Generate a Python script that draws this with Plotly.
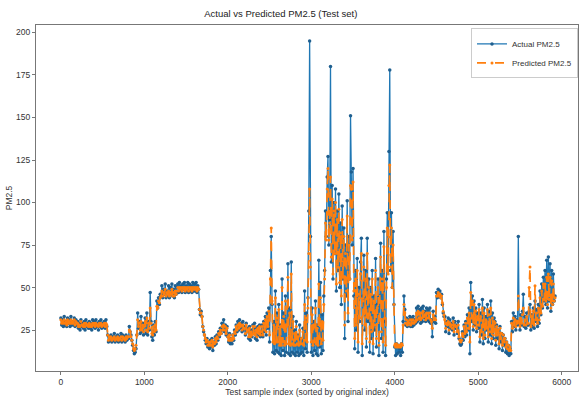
import plotly.graph_objects as go

# Test sample index (every 10th sample)
sample_index = list(range(0, 5921, 10))

actual_pm25 = [
    32, 28, 31, 27, 33, 28, 30, 27, 32, 29, 31, 27, 33, 28, 30, 28, 32, 27, 31, 28,
    30, 26, 29, 25, 31, 27, 29, 26, 30, 25, 31, 27, 29, 26, 30, 26, 29, 25, 31, 27,
    30, 26, 31, 27, 29, 25, 30, 27, 31, 26, 29, 27, 30, 26, 31, 27, 22, 18, 21, 19,
    22, 18, 21, 19, 23, 18, 21, 19, 22, 18, 21, 19, 23, 18, 22, 19, 21, 18, 22, 19,
    21, 20, 27, 24, 22, 19, 16, 13, 11, 12, 14, 22, 35, 26, 30, 23, 33, 24, 29, 22,
    27, 32, 23, 35, 22, 30, 25, 47, 30, 21, 19, 28, 22, 30, 24, 42, 38, 44, 40, 46,
    45, 51, 44, 49, 46, 52, 44, 48, 45, 51, 44, 50, 46, 52, 45, 49, 44, 51, 46, 50,
    52, 47, 53, 48, 51, 47, 52, 49, 53, 47, 51, 48, 53, 47, 52, 48, 51, 47, 53, 48,
    52, 48, 53, 47, 51, 49, 37, 34, 36, 33, 27, 24, 22, 19, 17, 20, 15, 18, 14, 19,
    15, 20, 13, 18, 16, 21, 17, 22, 19, 24, 21, 26, 23, 29, 25, 31, 24, 28, 22, 27,
    21, 18, 23, 17, 20, 17, 22, 19, 25, 22, 28, 24, 30, 25, 31, 26, 29, 24, 30, 25,
    27, 22, 29, 24, 26, 20, 27, 19, 25, 21, 28, 23, 29, 20, 26, 19, 27, 22, 28, 21,
    23, 28, 21, 30, 24, 33, 22, 35, 26, 38, 18, 60, 80, 40, 12, 30, 11, 48, 13, 35,
    12, 40, 11, 28, 10, 55, 13, 35, 10, 45, 12, 30, 64, 11, 38, 10, 65, 12, 33, 11,
    25, 10, 30, 12, 22, 10, 28, 11, 20, 12, 26, 10, 48, 14, 35, 12, 44, 95, 195, 80,
    12, 38, 10, 30, 13, 42, 11, 28, 10, 66, 15, 53, 11, 34, 13, 45, 60, 95, 80, 115,
    127, 75, 90, 180, 65, 110, 55, 100, 70, 108, 48, 95, 60, 105, 50, 88, 40, 98, 55, 85,
    20, 75, 45, 101, 30, 80, 55, 151, 118, 75, 120, 45, 14, 60, 25, 67, 12, 50, 30, 65,
    79, 10, 45, 69, 25, 60, 15, 79, 30, 55, 12, 50, 20, 60, 11, 45, 25, 67, 15, 40,
    55, 10, 45, 76, 20, 60, 12, 83, 30, 10, 55, 94, 60, 130, 178, 60, 94, 50, 83, 40,
    15, 10, 17, 11, 16, 12, 14, 10, 17, 12, 30, 45, 37, 28, 32, 27, 31, 29, 33, 27,
    32, 27, 33, 28, 31, 29, 38, 30, 39, 31, 37, 29, 38, 30, 39, 32, 36, 30, 38, 31,
    37, 30, 38, 29, 31, 21, 36, 30, 33, 29, 47, 44, 49, 45, 48, 44, 46, 40, 35, 33,
    33, 24, 30, 27, 32, 23, 31, 26, 29, 25, 32, 22, 30, 26, 28, 23, 30, 20, 17, 16,
    17, 24, 19, 28, 21, 30, 22, 34, 25, 38, 11, 53, 30, 45, 25, 42, 28, 38, 24, 35,
    26, 40, 18, 35, 22, 43, 17, 38, 20, 33, 25, 40, 18, 36, 22, 42, 17, 35, 20, 32,
    30, 16, 28, 20, 25, 14, 27, 18, 23, 13, 22, 16, 20, 12, 18, 11, 16, 10, 14, 11,
    30, 24, 35, 27, 33, 25, 31, 28, 80, 29, 25, 34, 28, 36, 46, 27, 33, 26, 35, 28,
    28, 36, 40, 25, 34, 27, 38, 26, 42, 30, 37, 27, 40, 29, 48, 34, 52, 38, 56, 42,
    60, 40, 66, 38, 68, 42, 64, 36, 60, 40, 58, 42, 45,
]

predicted_pm25 = [
    31, 29, 30, 29, 31, 29, 30, 28, 31, 29, 30, 29, 31, 29, 30, 29, 31, 28, 30, 29,
    29, 27, 28, 27, 30, 28, 28, 27, 29, 27, 29, 28, 28, 27, 29, 27, 28, 27, 29, 28,
    29, 27, 29, 28, 28, 27, 29, 28, 29, 27, 28, 28, 29, 27, 29, 28, 22, 19, 21, 20,
    21, 19, 20, 20, 21, 19, 20, 20, 21, 19, 20, 20, 21, 19, 21, 20, 20, 19, 21, 20,
    21, 21, 25, 24, 21, 19, 17, 14, 13, 14, 16, 22, 31, 27, 29, 25, 30, 25, 28, 24,
    27, 30, 25, 32, 24, 29, 26, 38, 29, 23, 22, 27, 24, 28, 25, 39, 38, 42, 41, 44,
    45, 48, 45, 47, 46, 49, 45, 47, 46, 48, 45, 47, 46, 49, 45, 47, 45, 48, 46, 48,
    50, 48, 50, 49, 50, 48, 50, 49, 50, 48, 50, 49, 50, 48, 50, 49, 50, 48, 50, 49,
    50, 49, 50, 48, 50, 49, 37, 35, 35, 33, 27, 25, 22, 20, 18, 19, 16, 18, 16, 18,
    16, 19, 15, 18, 17, 20, 18, 21, 20, 23, 22, 25, 23, 27, 25, 28, 25, 27, 23, 26,
    21, 19, 22, 19, 20, 19, 22, 20, 24, 23, 27, 25, 28, 26, 29, 27, 28, 25, 28, 26,
    26, 23, 28, 24, 25, 21, 26, 21, 24, 22, 27, 23, 27, 22, 25, 21, 26, 23, 27, 22,
    24, 27, 22, 29, 25, 31, 24, 33, 27, 36, 22, 55, 85, 42, 18, 28, 17, 44, 18, 32,
    18, 37, 16, 27, 16, 50, 18, 33, 16, 42, 17, 28, 56, 17, 35, 16, 58, 17, 30, 16,
    23, 16, 27, 17, 21, 16, 25, 17, 20, 17, 24, 16, 40, 19, 32, 18, 38, 70, 108, 62,
    18, 34, 16, 28, 18, 38, 17, 26, 16, 52, 20, 44, 17, 30, 19, 40, 55, 88, 78, 108,
    120, 78, 88, 115, 68, 102, 58, 95, 70, 100, 52, 90, 62, 96, 53, 82, 45, 90, 56, 80,
    28, 70, 48, 92, 35, 75, 55, 110, 108, 78, 112, 48, 20, 55, 28, 60, 18, 46, 32, 58,
    70, 17, 42, 62, 28, 55, 20, 70, 32, 50, 18, 46, 24, 55, 17, 42, 28, 60, 20, 38,
    50, 16, 42, 68, 24, 55, 18, 74, 32, 16, 50, 85, 58, 110, 122, 62, 85, 50, 75, 40,
    16, 15, 17, 15, 16, 15, 16, 15, 17, 16, 28, 40, 35, 29, 31, 28, 30, 29, 31, 28,
    31, 29, 31, 29, 30, 30, 35, 31, 36, 32, 35, 31, 35, 32, 36, 33, 34, 31, 35, 32,
    35, 32, 35, 31, 30, 26, 34, 31, 32, 31, 45, 45, 47, 45, 46, 44, 45, 41, 36, 34,
    31, 26, 29, 28, 30, 25, 29, 27, 28, 26, 30, 24, 28, 27, 27, 24, 28, 21, 19, 18,
    19, 23, 21, 27, 23, 29, 24, 32, 26, 35, 18, 47, 32, 42, 27, 40, 29, 36, 26, 33,
    28, 37, 21, 33, 24, 38, 20, 35, 22, 31, 26, 37, 21, 34, 24, 38, 20, 32, 22, 30,
    29, 19, 27, 22, 25, 17, 26, 20, 23, 16, 22, 18, 20, 15, 18, 14, 16, 13, 15, 13,
    29, 26, 32, 28, 31, 27, 30, 29, 45, 30, 27, 32, 29, 34, 38, 28, 31, 28, 33, 29,
    29, 50, 62, 27, 33, 29, 36, 28, 51, 31, 35, 29, 38, 31, 44, 35, 48, 39, 52, 43,
    52, 42, 56, 40, 58, 43, 56, 38, 54, 40, 52, 42, 44,
]

x_ticks = [0, 1000, 2000, 3000, 4000, 5000, 6000]
y_ticks = [25, 50, 75, 100, 125, 150, 175, 200]

FONT = "Liberation Sans Narrow, Arial Narrow, Liberation Sans, sans-serif"

fig = go.Figure()
fig.add_trace(go.Scatter(
    x=sample_index, y=actual_pm25, mode="lines+markers", name="Actual PM2.5",
    line=dict(color="#1f77b4", width=1.3),
    marker=dict(size=3.5, color="#1f5f8f"),
))
fig.add_trace(go.Scatter(
    x=sample_index, y=predicted_pm25, mode="lines+markers", name="Predicted PM2.5",
    line=dict(color="#ff7f0e", width=1.7, dash="dash"),
    marker=dict(size=3, color="#ff7f0e"),
))

axis_common = dict(
    showline=True, linecolor="#777", linewidth=1.2, mirror=True,
    showgrid=False, zeroline=False, ticks="outside", ticklen=3,
    tickcolor="#777", automargin=False,
    tickfont=dict(size=8.5, color="#333", family=FONT),
)

fig.update_layout(
    width=579, height=401,
    margin=dict(l=36, r=1, t=25, b=30),
    paper_bgcolor="white", plot_bgcolor="white",
    title=dict(text="Actual vs Predicted PM2.5 (Test set)", x=0.485, xanchor="center",
               y=0.965, yanchor="middle",
               font=dict(size=9.5, color="#222", family=FONT)),
    xaxis=dict(range=[-298, 6195], tickvals=x_ticks,
               title=dict(text="Test sample index (sorted by original index)",
                          font=dict(size=8.5, color="#333", family=FONT),
                          standoff=2),
               **axis_common),
    yaxis=dict(range=[0.9, 204.4], tickvals=y_ticks,
               title=dict(text="PM2.5", font=dict(size=8.5, color="#333", family=FONT),
                          standoff=2),
               **axis_common),
    legend=dict(x=1, xanchor="right", y=0.99, yanchor="top",
                bordercolor="#ccc", borderwidth=1, bgcolor="rgba(255,255,255,0.85)",
                font=dict(size=8, color="#333", family=FONT),
                itemwidth=30, tracegroupgap=0),
    showlegend=True,
)

fig.write_html(
    "out.html",
    config={"displayModeBar": False},
    post_script="document.body.style.margin='0';document.body.style.padding='0';",
)
